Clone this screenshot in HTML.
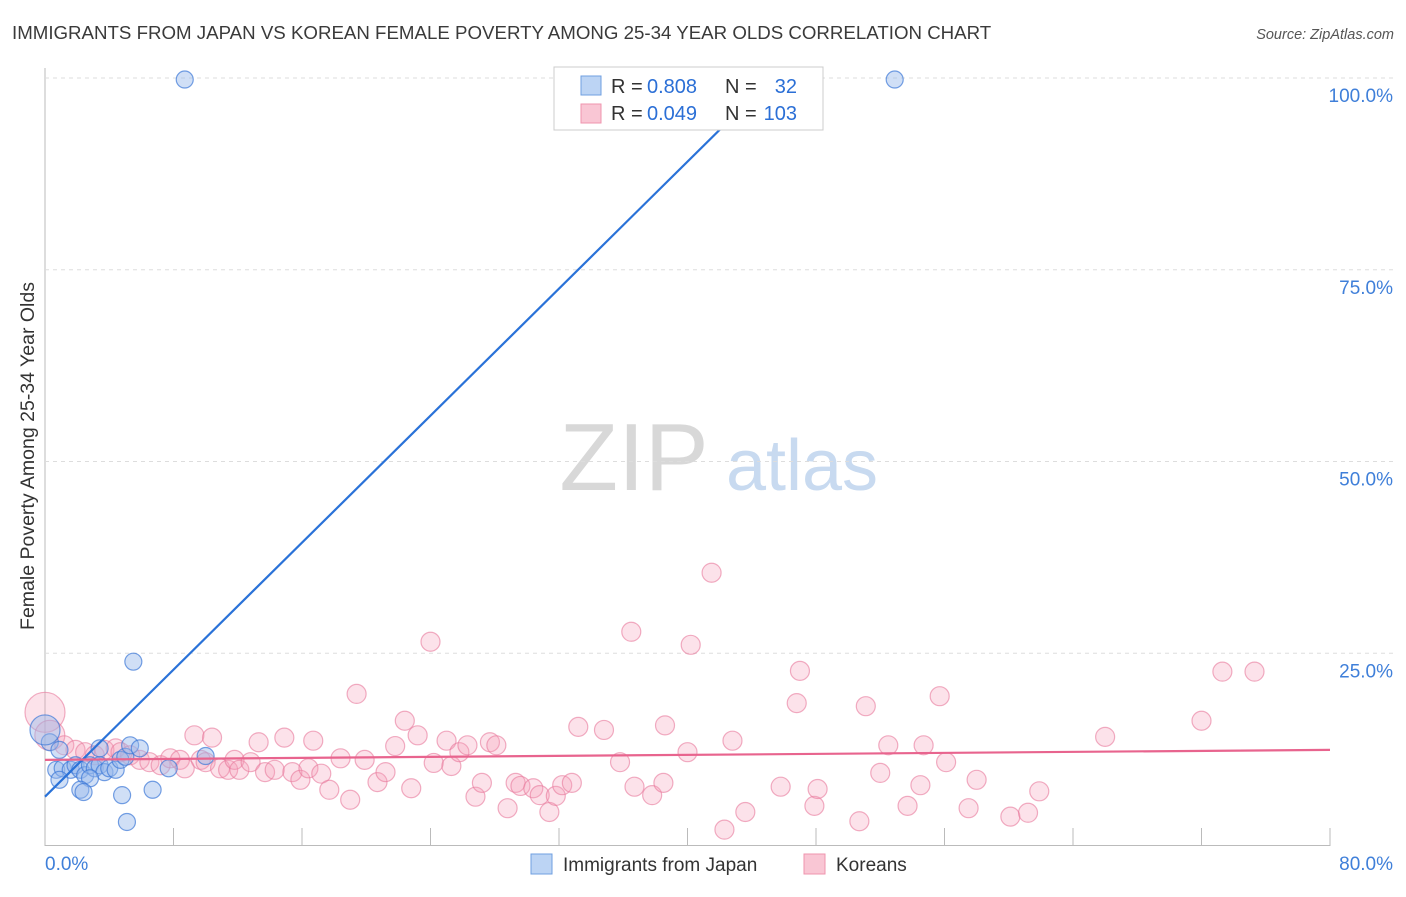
<!DOCTYPE html>
<html><head><meta charset="utf-8"><style>
body{margin:0;background:#fff;font-family:"Liberation Sans",sans-serif;}
svg text{font-family:"Liberation Sans",sans-serif;}
</style></head><body>
<svg id="c" width="1406" height="892">
<text x="12" y="39" font-size="18.7" fill="#3a3a3a">IMMIGRANTS FROM JAPAN VS KOREAN FEMALE POVERTY AMONG 25-34 YEAR OLDS CORRELATION CHART</text>
<text x="1394" y="39" font-size="14.5" fill="#555" font-style="italic" text-anchor="end">Source: ZipAtlas.com</text>
<text transform="translate(34,456) rotate(-90)" font-size="19.5" fill="#333" text-anchor="middle">Female Poverty Among 25-34 Year Olds</text>
<g>
<text x="634" y="490" font-size="96" fill="#d8d8d8" font-family="Liberation Serif,serif" text-anchor="middle">ZIP</text>
<text x="802" y="490" font-size="72" fill="#c8daf0" text-anchor="middle">atlas</text>
</g>
<g id="grid"></g><g id="pts"></g><g id="lines"></g>
<g>
<rect x="554" y="67" width="269" height="63" fill="#fff" stroke="#ccc"/>
<rect x="581" y="76" width="20" height="19" fill="#bcd4f4" stroke="#6f9fe0"/>
<rect x="581" y="104" width="20" height="19" fill="#f9c6d4" stroke="#ef94ae"/>
<g font-size="20" fill="#333">
<text x="611" y="93">R =</text><text x="647" y="93" fill="#2b6fd6">0.808</text><text x="725" y="93">N =</text><text x="797" y="93" fill="#2b6fd6" text-anchor="end">32</text>
<text x="611" y="120">R =</text><text x="647" y="120" fill="#2b6fd6">0.049</text><text x="725" y="120">N =</text><text x="797" y="120" fill="#2b6fd6" text-anchor="end">103</text>
</g>
</g>
<g>
<rect x="531" y="854" width="21" height="20" fill="#bcd4f4" stroke="#6f9fe0"/>
<text x="563" y="871" font-size="19" fill="#333">Immigrants from Japan</text>
<rect x="804" y="854" width="21" height="20" fill="#f9c6d4" stroke="#ef94ae"/>
<text x="836" y="871" font-size="19" fill="#333">Koreans</text>
</g>
</svg>
<script>
const xTickVals=[0,8,16,24,32,40,48,56,64,72,80];
const yTickVals=[25,50,75,100];
const yTickLabels=["25.0%","50.0%","75.0%","100.0%"];
const xEndLabels=["0.0%","80.0%"];
const japanX=[8.7,52.9,5.5,0.3,0,0.7,1.1,1.6,1.9,2.2,2.5,2.8,3.1,3.4,3.7,4.0,4.4,4.7,5.0,5.3,5.9,0.9,2.8,2.2,2.4,4.8,6.7,5.1,7.7,10.0,3.4,0.9];
const japanY=[99.8,99.8,23.9,13.4,15.0,9.8,10.0,9.8,10.4,9.8,9.1,10.4,10.0,10.4,9.5,10.0,9.8,11.1,11.5,13.0,12.6,8.5,8.7,7.2,6.9,6.5,7.2,3.0,10.0,11.6,12.6,12.4];
const koreaX=[0,0.3,1.2,1.9,2.5,3.1,3.7,4.4,4.7,5.3,5.9,6.5,7.2,7.8,8.4,8.7,9.3,9.7,10.0,10.4,10.9,11.4,11.8,12.1,12.8,13.3,13.7,14.3,14.9,15.4,15.9,16.4,16.7,17.2,17.7,18.4,19.0,19.4,19.9,20.7,21.2,21.8,22.4,22.8,23.2,24.0,24.2,25.0,25.3,25.8,26.3,26.8,27.2,27.7,28.1,28.8,29.3,29.6,30.4,30.8,31.4,31.8,32.2,32.8,33.2,34.8,35.8,36.5,36.7,37.8,38.5,38.6,40.2,40.0,41.5,42.3,42.8,43.6,45.8,46.8,47.0,47.9,48.1,50.7,51.1,52.0,52.5,53.7,54.5,54.7,55.7,56.1,57.5,58.0,60.1,61.2,61.9,66.0,72.0,73.3,75.3];
const koreaY=[17.3,14.3,13.0,12.4,12.1,11.7,12.4,12.6,12.1,11.7,11.1,10.8,10.4,11.3,11.1,10.0,14.3,11.1,10.8,14.0,10.0,9.8,11.1,9.8,10.8,13.4,9.5,9.8,14.0,9.5,8.5,10.0,13.6,9.3,7.2,11.3,5.9,19.7,11.1,8.2,9.5,12.9,16.2,7.4,14.3,26.5,10.7,13.6,10.3,12.1,13.0,6.3,8.1,13.4,13.0,4.8,8.1,7.7,7.4,6.5,4.3,6.4,7.8,8.1,15.4,15.0,10.8,27.8,7.6,6.5,8.1,15.6,26.1,12.1,35.5,2.0,13.6,4.3,7.6,18.5,22.7,5.1,7.3,3.1,18.1,9.4,13.0,5.1,7.8,13.0,19.4,10.8,4.8,8.5,3.7,4.2,7.0,14.1,16.2,22.6,22.6];
const japanFit=[6.3,2.07];
const koreaFit=[11.1,12.4];
const X=v=>45+v/80*1285, Y=v=>845-v/100*767;
const NS="http://www.w3.org/2000/svg";
function mk(p,t,a){const e=document.createElementNS(NS,t);for(const k in a)e.setAttribute(k,a[k]);p.appendChild(e);return e;}
const g=document.getElementById('grid');
mk(g,'line',{x1:45,y1:68,x2:45,y2:846,stroke:'#bbb'});
mk(g,'line',{x1:45,y1:845.5,x2:1330,y2:845.5,stroke:'#bbb'});
xTickVals.forEach(v=>{const t=mk(g,'line',{x1:X(v),y1:828,x2:X(v),y2:846,stroke:'#bbb'});

});
yTickVals.forEach((v,i)=>{const l=mk(g,'line',{x1:45,y1:Y(v),x2:1394,y2:Y(v),stroke:'#ddd','stroke-dasharray':'4,4'});


const t=mk(g,'text',{x:1393,y:Y(v)+24,'font-size':19,fill:'#3f7fd9','text-anchor':'end'});t.textContent=yTickLabels[i];

});
[[0,'start',45],[80,'end',1393]].forEach((d,i)=>{const t=mk(g,'text',{x:d[2],y:870,'font-size':19,fill:'#3f7fd9','text-anchor':d[1]});t.textContent=xEndLabels[i];

});
const p=document.getElementById('pts');
koreaX.forEach((x,i)=>{const r=i==0?20:(i==1?15:9.5);const c=mk(p,'circle',{cx:X(x),cy:Y(koreaY[i]),r:r,fill:'rgba(244,160,185,0.3)',stroke:'rgba(232,120,155,0.6)','stroke-width':1.2});

});
japanX.forEach((x,i)=>{const r=i==4?15:8.5;const c=mk(p,'circle',{cx:X(x),cy:Y(japanY[i]),r:r,fill:'rgba(150,185,235,0.45)',stroke:'rgba(60,120,215,0.7)','stroke-width':1.2});

});
const L=document.getElementById('lines');
const xe=(100-japanFit[0])/japanFit[1];
const b=mk(L,'line',{x1:X(0),y1:Y(japanFit[0]),x2:X(xe),y2:Y(100),stroke:'#2a72d8','stroke-width':2.2});


const k=mk(L,'line',{x1:X(0),y1:Y(koreaFit[0]),x2:X(80),y2:Y(koreaFit[1]),stroke:'#e8648e','stroke-width':2.2});


</script>
</body></html>
